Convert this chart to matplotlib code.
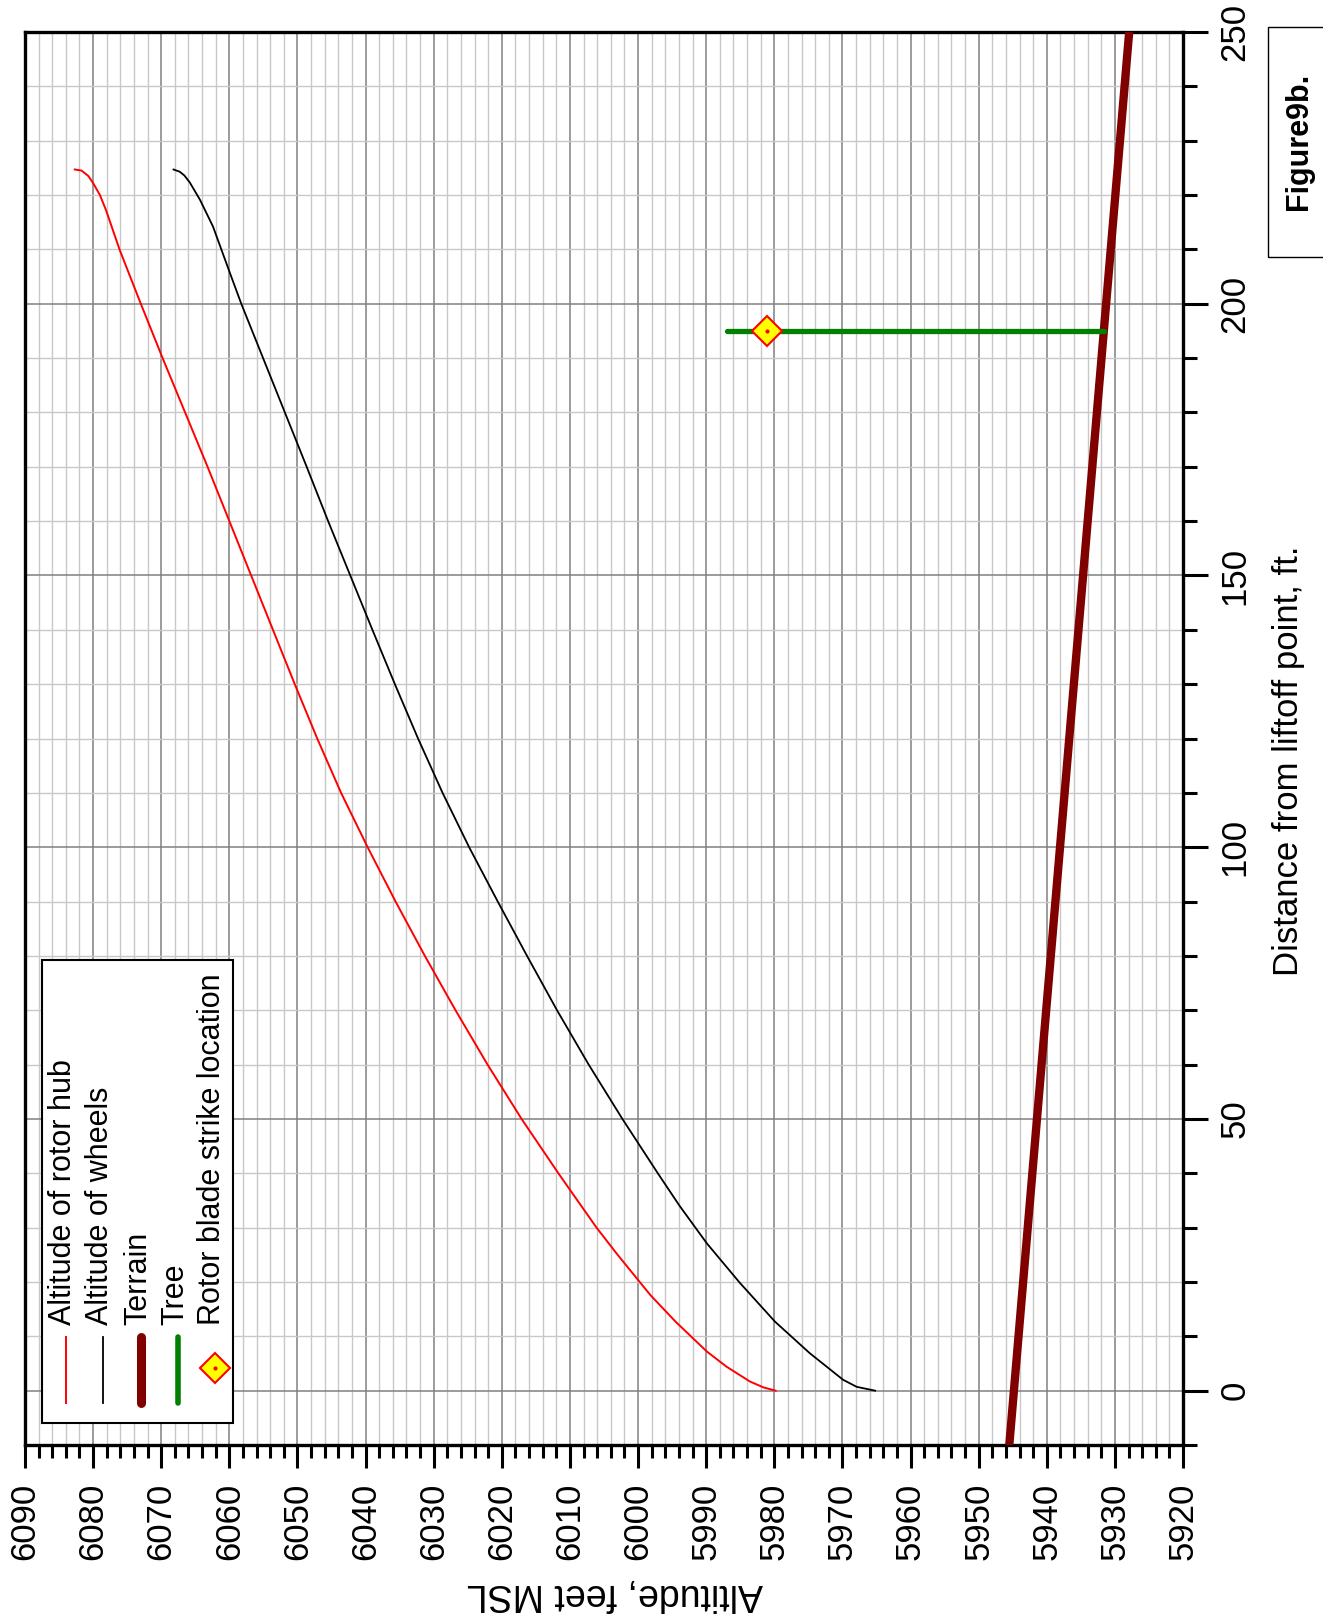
import matplotlib
matplotlib.use('Agg')
import matplotlib.pyplot as plt
from matplotlib.patches import Rectangle
from matplotlib.ticker import MultipleLocator

plt.rcParams['font.family'] = ['Liberation Sans', 'DejaVu Sans']

# distance from liftoff point, ft  /  altitude, ft MSL
hub_dist = [0, 0.6, 1.7, 4.4, 7.2, 12.7, 17.6, 25, 30, 40, 50, 60, 70, 80, 90, 100,
            110, 120, 130, 140, 150, 160, 170, 180, 190, 200, 209.9, 217.2, 220.0,
            222.2, 223.5, 224.5, 224.7]
hub_alt = [5979.8, 5981.6, 5983.6, 5987.0, 5989.9, 5994.5, 5998.2, 6003.0, 6006.1,
           6011.7, 6017.1, 6022.1, 6026.8, 6031.3, 6035.6, 6039.7, 6043.6, 6047.1,
           6050.4, 6053.6, 6056.8, 6060.0, 6063.2, 6066.5, 6069.8, 6073.0, 6076.1,
           6078.1, 6079.0, 6080.0, 6080.7, 6081.7, 6082.7]

wheel_dist = [0, 0.7, 2.0, 6.9, 12.7, 19.9, 27.1, 34, 40, 50, 60, 70, 80, 90, 100,
              110, 120, 130, 140, 150, 160, 170, 180, 190, 200, 205.6, 214.2, 219.1,
              222.3, 223.6, 224.3, 224.7]
wheel_alt = [5965.2, 5967.9, 5969.9, 5974.8, 5979.9, 5985.1, 5989.9, 5993.9, 5997.1,
             6002.3, 6007.25, 6011.9, 6016.3, 6020.6, 6024.8, 6028.7, 6032.3, 6035.7,
             6039.0, 6042.25, 6045.5, 6048.65, 6051.85, 6055.05, 6058.25, 6059.9,
             6062.4, 6064.3, 6065.8, 6066.6, 6067.3, 6068.2]

terrain_dist = [-10, 250]
terrain_alt = [5945.5, 5927.9]

tree_dist = [195, 195]
tree_alt = [5931.6, 5987.0]

strike_dist = [195]
strike_alt = [5981.0]

legend_labels = ['Altitude of rotor hub', 'Altitude of wheels', 'Terrain', 'Tree',
                 'Rotor blade strike location']

W, H = 1323, 1621
fig = plt.figure(figsize=(W / 100, H / 100), dpi=100)
ax_l, ax_r, ax_t, ax_b = 25, 1183, 32, 1445
ax = fig.add_axes([ax_l / W, 1 - ax_b / H, (ax_r - ax_l) / W, (ax_b - ax_t) / H])

# page is turned sideways: altitude along the bottom (reversed), distance up the right side
ax.plot(hub_alt, hub_dist, color='#ff0000', lw=1.4, zorder=3)
ax.plot(wheel_alt, wheel_dist, color='black', lw=1.3, zorder=3)
ax.plot(terrain_alt, terrain_dist, color='#800000', lw=6, solid_capstyle='butt', zorder=3)
ax.plot(tree_alt, tree_dist, color='#008000', lw=3.8, solid_capstyle='round', zorder=4)
ax.plot(strike_alt, strike_dist, marker='D', ms=15, mfc='#ffff00', mec='#ff0000',
        mew=1.5, ls='none', zorder=5)
ax.plot(strike_alt, strike_dist, marker='o', ms=2, color='#ff0000', ls='none', zorder=6)

ax.set_xlim(6090, 5920)
ax.set_ylim(-10, 250)
ax.xaxis.set_major_locator(MultipleLocator(10))
ax.xaxis.set_minor_locator(MultipleLocator(2))
ax.yaxis.set_major_locator(MultipleLocator(50))
ax.yaxis.set_minor_locator(MultipleLocator(10))
ax.yaxis.tick_right()

ax.set_axisbelow(True)
ax.grid(which='minor', color='#c8c8c8', lw=1.0)
ax.grid(which='major', color='#808080', lw=1.1)

ax.tick_params(axis='x', which='major', length=16.5, width=2.2, labelsize=25,
               pad=10.5, labelrotation=90)
ax.tick_params(axis='x', which='minor', length=9.4, width=2.2)
ax.tick_params(axis='y', which='major', length=18, width=2.2, labelsize=25,
               pad=7.5, labelrotation=90)
ax.tick_params(axis='y', which='minor', length=10, width=2.2)
plt.setp(ax.get_yticklabels(), va='center')
for s in ax.spines.values():
    s.set_linewidth(2.4)

ax.set_xlabel('Altitude, feet MSL', fontsize=27, rotation=180, ha='center', va='center')
ax.xaxis.set_label_coords((615 - ax_l) / (ax_r - ax_l), (ax_b - 1594) / (ax_b - ax_t))
ax.yaxis.set_label_position('right')
ax.set_ylabel('Distance from liftoff point, ft.', fontsize=25, rotation=90,
              ha='center', va='center')
ax.yaxis.set_label_coords((1288 - ax_l) / (ax_r - ax_l), (ax_b - 761) / (ax_b - ax_t))


def to_ax(px, py):
    return (px - ax_l) / (ax_r - ax_l), (ax_b - py) / (ax_b - ax_t)


# legend drawn by hand so the entries run sideways like the rest of the page
x0, y0 = to_ax(42, 1423)
x1, y1 = to_ax(233, 960)
ax.add_patch(Rectangle((x0, y0), x1 - x0, y1 - y0, transform=ax.transAxes,
                       fc='white', ec='black', lw=1.5, zorder=7, clip_on=False))
entry_px = [66, 103, 141, 178, 215]
_, ya = to_ax(0, 1337)
_, yb = to_ax(0, 1403)
styles = [dict(color='#ff0000', lw=1.4), dict(color='black', lw=1.3),
          dict(color='#800000', lw=6.5, solid_capstyle='round'),
          dict(color='#008000', lw=4, solid_capstyle='round')]
for px, st in zip(entry_px[:4], styles):
    xa, _ = to_ax(px, 0)
    ax.plot([xa, xa], [ya, yb], transform=ax.transAxes, clip_on=False, zorder=8, **st)
xd, yd = to_ax(entry_px[4], 1368)
ax.plot([xd], [yd], marker='D', ms=15, mfc='#ffff00', mec='#ff0000', mew=1.5,
        transform=ax.transAxes, clip_on=False, zorder=8)
ax.plot([xd], [yd], marker='o', ms=2, color='#ff0000', transform=ax.transAxes,
        clip_on=False, zorder=9)
_, yt = to_ax(0, 1325)
for px, lab in zip(entry_px, legend_labels):
    xt, _ = to_ax(px - 3, 0)
    ax.text(xt, yt, lab, transform=ax.transAxes, rotation=90, ha='center', va='bottom',
            fontsize=22, zorder=9)

# figure tag in the margin
fig.add_artist(Rectangle((1268 / W, 1 - 257 / H), 80 / W, 230 / H, transform=fig.transFigure,
                         fill=False, ec='black', lw=1.0))
fig.text(1299 / W, 1 - 141 / H, 'Figure9b.', rotation=90, ha='center', va='center',
         fontsize=22, fontweight='bold')

fig.savefig('out.png', dpi=100)
